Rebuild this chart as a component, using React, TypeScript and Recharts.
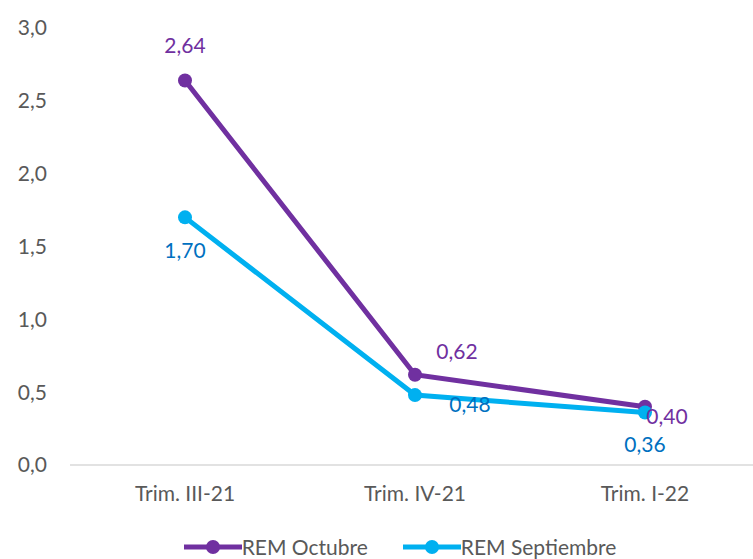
import React from 'react';
import { LineChart, Line, XAxis, YAxis, Legend, LabelList } from 'recharts';

const categories = ['Trim. III-21', 'Trim. IV-21', 'Trim. I-22'];
const remOctubre = [2.64, 0.62, 0.4];
const remSeptiembre = [1.7, 0.48, 0.36];
const yTicks = [0, 0.5, 1, 1.5, 2, 2.5, 3];

const PURPLE = '#7030A0';
const CYAN = '#00B0F0';
const BLUE_LABEL = '#0070C0';
const FONT = 'Lato, "Open Sans", sans-serif';
const FS = 21;

const data = categories.map((c, i) => ({
  name: c,
  oct: remOctubre[i],
  sep: remSeptiembre[i],
}));

const fmt = (v: number, d: number) => v.toFixed(d).replace('.', ',');

// where each value label sits relative to its point
const octPlace: Array<[number, number]> = [[0, -33], [42, -21], [22, 12]];
const sepPlace: Array<[number, number]> = [[0, 35], [55, 12], [0, 34]];

const makeLabel = (place: Array<[number, number]>, color: string) => (props: any) => {
  const { x, y, value, index } = props;
  const [dx, dy] = place[index] || [0, 0];
  return (
    <text
      x={x + dx}
      y={y + dy}
      fill={color}
      fontSize={FS}
      fontFamily={FONT}
      textAnchor="middle"
      dominantBaseline="middle"
    >
      {fmt(value, 2)}
    </text>
  );
};

const LegendContent = () => {
  const items = [
    { label: 'REM Octubre', color: PURPLE },
    { label: 'REM Septiembre', color: CYAN },
  ];
  return (
    <div style={{ display: 'flex', justifyContent: 'center', gap: 35, fontFamily: FONT, fontSize: FS, color: '#595959', paddingLeft: 40, paddingTop: 9 }}>
      {items.map((it) => (
        <div key={it.label} style={{ display: 'flex', alignItems: 'center' }}>
          <svg width={58} height={16}>
            <line x1={0} y1={8} x2={58} y2={8} stroke={it.color} strokeWidth={5} />
            <circle cx={29} cy={8} r={7} fill={it.color} />
          </svg>
          <span>{it.label}</span>
        </div>
      ))}
    </div>
  );
};

export default function App() {
  return (
    <div style={{ position: 'absolute', left: 0, top: 0, width: 753, height: 559, overflow: 'hidden', background: '#fff' }}>
      <LineChart
        width={760}
        height={559}
        data={data}
        margin={{ top: 28, right: 0, left: 0, bottom: 2 }}
      >
        <XAxis
          dataKey="name"
          axisLine={{ stroke: '#D9D9D9', strokeWidth: 1.5 }}
          tickLine={false}
          tick={{ fill: '#595959', fontSize: FS, fontFamily: FONT }}
          tickMargin={15}
          height={60}
          padding={{ left: 115, right: 115 }}
        />
        <YAxis
          domain={[0, 3]}
          ticks={yTicks}
          axisLine={false}
          tickLine={false}
          width={70}
          tickMargin={17}
          tickFormatter={(v: number) => fmt(v, 1)}
          tick={{ fill: '#595959', fontSize: FS, fontFamily: FONT }}
          interval={0}
        />
        <Legend verticalAlign="bottom" height={32} content={<LegendContent />} />
        <Line
          dataKey="oct"
          name="REM Octubre"
          stroke={PURPLE}
          strokeWidth={5}
          dot={{ r: 7, fill: PURPLE, stroke: PURPLE, strokeWidth: 0 }}
          activeDot={false}
          isAnimationActive={false}
        >
          <LabelList dataKey="oct" content={makeLabel(octPlace, PURPLE)} />
        </Line>
        <Line
          dataKey="sep"
          name="REM Septiembre"
          stroke={CYAN}
          strokeWidth={5}
          dot={{ r: 7, fill: CYAN, stroke: CYAN, strokeWidth: 0 }}
          activeDot={false}
          isAnimationActive={false}
        >
          <LabelList dataKey="sep" content={makeLabel(sepPlace, BLUE_LABEL)} />
        </Line>
      </LineChart>
    </div>
  );
}
